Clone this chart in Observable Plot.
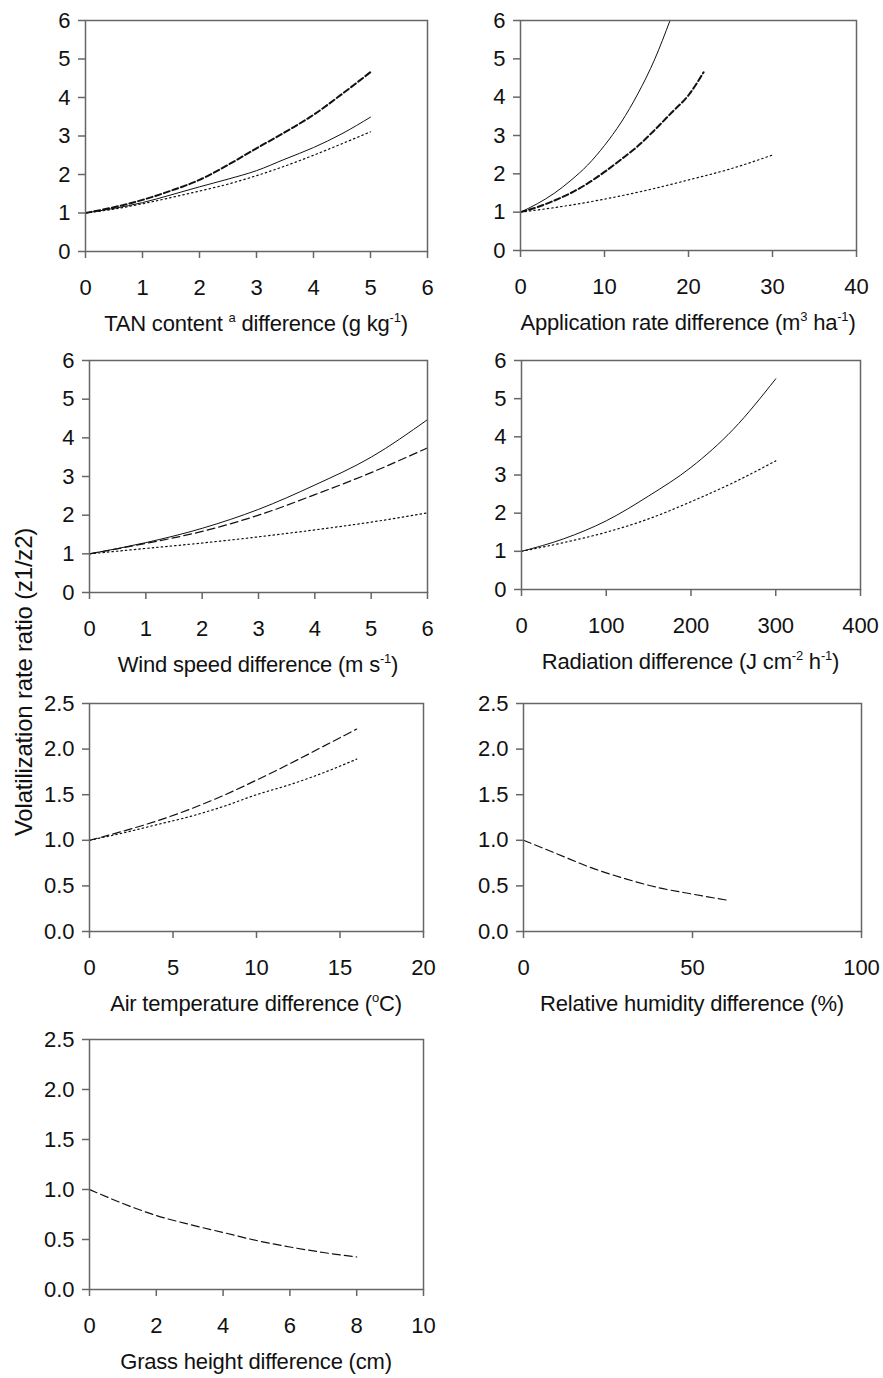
<!DOCTYPE html>
<html>
<head>
<meta charset="utf-8">
<script src="https://cdn.jsdelivr.net/npm/d3@7"></script>
<script src="https://cdn.jsdelivr.net/npm/@observablehq/plot@0.6"></script>
<style>
  body { margin: 0; background: #fff; }
  #fig { position: relative; width: 883px; height: 1378px; font-family: "Liberation Sans", Arial, sans-serif; color: #111; overflow: hidden; }
  .panel { position: absolute; }
  .xt { position: absolute; font-size: 22px; line-height: 24px; white-space: nowrap; transform: translateX(-50%); letter-spacing: -0.2px; }
  .xt sup { font-size: 13px; line-height: 0; vertical-align: 0; position: relative; top: -9px; }
  #ylab { position: absolute; left: 24px; top: 682px; font-size: 24px; white-space: nowrap; transform: translate(-50%, -50%) rotate(-90deg); letter-spacing: -0.2px; }
</style>
</head>
<body>
<div id="fig"></div>
<script>
// ---------------- data ----------------
// Panel 1: TAN content
const tanX       = [0, 0.5, 1, 1.5, 2, 2.5, 3, 3.5, 4, 4.5, 5];
const tanSolid   = [1, 1.12, 1.27, 1.47, 1.68, 1.88, 2.1, 2.4, 2.7, 3.06, 3.49];
const tanDashed  = [1, 1.15, 1.34, 1.58, 1.86, 2.25, 2.68, 3.1, 3.55, 4.09, 4.66];
const tanDotted  = [1, 1.1, 1.24, 1.4, 1.57, 1.75, 1.97, 2.22, 2.5, 2.8, 3.11];
const tanTicksX  = [0, 1, 2, 3, 4, 5, 6];

// Panel 2: Application rate
const appSolidX  = [0, 2, 4, 6, 8, 10, 12, 14, 16, 17.8];
const appSolid   = [1, 1.22, 1.49, 1.83, 2.23, 2.74, 3.35, 4.1, 5.0, 6];
const appDashedX = [0, 2, 4, 6, 8, 10, 12, 14, 16, 18, 20, 21.8];
const appDashed  = [1, 1.13, 1.3, 1.5, 1.75, 2.05, 2.38, 2.73, 3.15, 3.6, 4.05, 4.65];
const appDottedX = [0, 5, 10, 15, 20, 25, 30];
const appDotted  = [1, 1.15, 1.34, 1.57, 1.84, 2.13, 2.49];
const appTicksX  = [0, 10, 20, 30, 40];

// Panel 3: Wind speed
const windX      = [0, 1, 2, 3, 4, 5, 6];
const windSolid  = [1, 1.29, 1.66, 2.15, 2.78, 3.5, 4.47];
const windDashed = [1, 1.27, 1.58, 2.0, 2.53, 3.1, 3.74];
const windDotted = [1, 1.14, 1.28, 1.44, 1.62, 1.82, 2.06];
const windTicksX = [0, 1, 2, 3, 4, 5, 6];

// Panel 4: Radiation
const radX       = [0, 50, 100, 150, 200, 250, 300];
const radSolid   = [1, 1.33, 1.8, 2.45, 3.2, 4.2, 5.52];
const radDotted  = [1, 1.23, 1.5, 1.85, 2.3, 2.8, 3.37];
const radTicksX  = [0, 100, 200, 300, 400];

// Panel 5: Air temperature
const tempX      = [0, 2, 4, 6, 8, 10, 12, 14, 16];
const tempDashed = [1, 1.1, 1.21, 1.34, 1.49, 1.66, 1.84, 2.03, 2.22];
const tempDotted = [1, 1.08, 1.17, 1.26, 1.37, 1.5, 1.61, 1.74, 1.89];
const tempTicksX = [0, 5, 10, 15, 20];

// Panel 6: Relative humidity
const rhX        = [0, 10, 20, 30, 40, 50, 60];
const rhDashed   = [1, 0.85, 0.7, 0.58, 0.48, 0.41, 0.345];
const rhTicksX   = [0, 50, 100];

// Panel 7: Grass height
const grassX      = [0, 1, 2, 3, 4, 5, 6, 7, 8];
const grassDashed = [1, 0.86, 0.74, 0.65, 0.57, 0.49, 0.425, 0.37, 0.325];
const grassTicksX = [0, 2, 4, 6, 8, 10];

const yTicksBig   = [0, 1, 2, 3, 4, 5, 6];
const yTicksSmall = [0, 0.5, 1, 1.5, 2, 2.5];

// ---------------- styles ----------------
const AXIS = "#666";
const INK = "#111";
const STYLE = {
  solid:  {stroke: "#111", strokeWidth: 1},
  dashedBold: {stroke: "#111", strokeWidth: 2, strokeDasharray: "6,3"},
  dashed: {stroke: "#111", strokeWidth: 1.2, strokeDasharray: "8,4"},
  dotted: {stroke: "#111", strokeWidth: 1.2, strokeDasharray: "1.5,3"}
};

const fig = document.getElementById("fig");
const f0 = d3.format("d");
const f1 = d3.format(".1f");

function panel({box, xDomain, xTicks, yDomain, yTicks, yFormat, series, title}) {
  const [L, T, R, B] = box;
  const mL = 85, mT = 12, mR = 18, mB = 54;
  const chart = Plot.plot({
    width: (R - L) + mL + mR,
    height: (B - T) + mT + mB,
    marginLeft: mL, marginTop: mT, marginRight: mR, marginBottom: mB,
    style: {fontFamily: '"Liberation Sans", Arial, sans-serif', fontSize: "22px", color: INK, background: "transparent", overflow: "visible"},
    x: {domain: xDomain},
    y: {domain: yDomain},
    marks: [
      ...series.map(s => Plot.line(s.y, {x: s.x, y: s.y, curve: "monotone-x", clip: true, ...STYLE[s.style]})),
      Plot.frame({stroke: AXIS, strokeWidth: 1.5}),
      Plot.axisX({ticks: xTicks, tickFormat: f0, tickSize: 7, tickPadding: 21, label: null, stroke: AXIS, strokeWidth: 1.5, fill: INK, fontSize: 22}),
      Plot.axisY({ticks: yTicks, tickFormat: yFormat, tickSize: 7, tickPadding: 8, label: null, stroke: AXIS, strokeWidth: 1.5, fill: INK, fontSize: 22})
    ]
  });
  chart.classList.add("panel");
  chart.style.left = (L - mL) + "px";
  chart.style.top = (T - mT) + "px";
  fig.appendChild(chart);
  const t = document.createElement("div");
  t.className = "xt";
  t.innerHTML = title;
  t.style.left = ((L + R) / 2) + "px";
  t.style.top = (B + 73 - 12) + "px";
  fig.appendChild(t);
}

panel({box: [85, 20, 427, 251], xDomain: [0, 6], xTicks: tanTicksX, yDomain: [0, 6], yTicks: yTicksBig, yFormat: f0,
  series: [{x: tanX, y: tanSolid, style: "solid"}, {x: tanX, y: tanDashed, style: "dashedBold"}, {x: tanX, y: tanDotted, style: "dotted"}],
  title: 'TAN content <sup>a</sup> difference (g kg<sup>-1</sup>)'});

panel({box: [520, 20, 856, 250], xDomain: [0, 40], xTicks: appTicksX, yDomain: [0, 6], yTicks: yTicksBig, yFormat: f0,
  series: [{x: appSolidX, y: appSolid, style: "solid"}, {x: appDashedX, y: appDashed, style: "dashedBold"}, {x: appDottedX, y: appDotted, style: "dotted"}],
  title: 'Application rate difference (m<sup>3</sup> ha<sup>-1</sup>)'});

panel({box: [89, 360, 427, 592], xDomain: [0, 6], xTicks: windTicksX, yDomain: [0, 6], yTicks: yTicksBig, yFormat: f0,
  series: [{x: windX, y: windSolid, style: "solid"}, {x: windX, y: windDashed, style: "dashed"}, {x: windX, y: windDotted, style: "dotted"}],
  title: 'Wind speed difference (m s<sup>-1</sup>)'});

panel({box: [521, 360, 860, 589], xDomain: [0, 400], xTicks: radTicksX, yDomain: [0, 6], yTicks: yTicksBig, yFormat: f0,
  series: [{x: radX, y: radSolid, style: "solid"}, {x: radX, y: radDotted, style: "dotted"}],
  title: 'Radiation difference (J cm<sup>-2</sup> h<sup>-1</sup>)'});

panel({box: [89, 703, 423, 931], xDomain: [0, 20], xTicks: tempTicksX, yDomain: [0, 2.5], yTicks: yTicksSmall, yFormat: f1,
  series: [{x: tempX, y: tempDashed, style: "dashed"}, {x: tempX, y: tempDotted, style: "dotted"}],
  title: 'Air temperature difference (<sup>o</sup>C)'});

panel({box: [523, 703, 861, 931], xDomain: [0, 100], xTicks: rhTicksX, yDomain: [0, 2.5], yTicks: yTicksSmall, yFormat: f1,
  series: [{x: rhX, y: rhDashed, style: "dashed"}],
  title: 'Relative humidity difference (%)'});

panel({box: [89, 1039, 423, 1289], xDomain: [0, 10], xTicks: grassTicksX, yDomain: [0, 2.5], yTicks: yTicksSmall, yFormat: f1,
  series: [{x: grassX, y: grassDashed, style: "dashed"}],
  title: 'Grass height difference (cm)'});

const yl = document.createElement("div");
yl.id = "ylab";
yl.textContent = "Volatilization rate ratio (z1/z2)";
fig.appendChild(yl);
</script>
</body>
</html>
